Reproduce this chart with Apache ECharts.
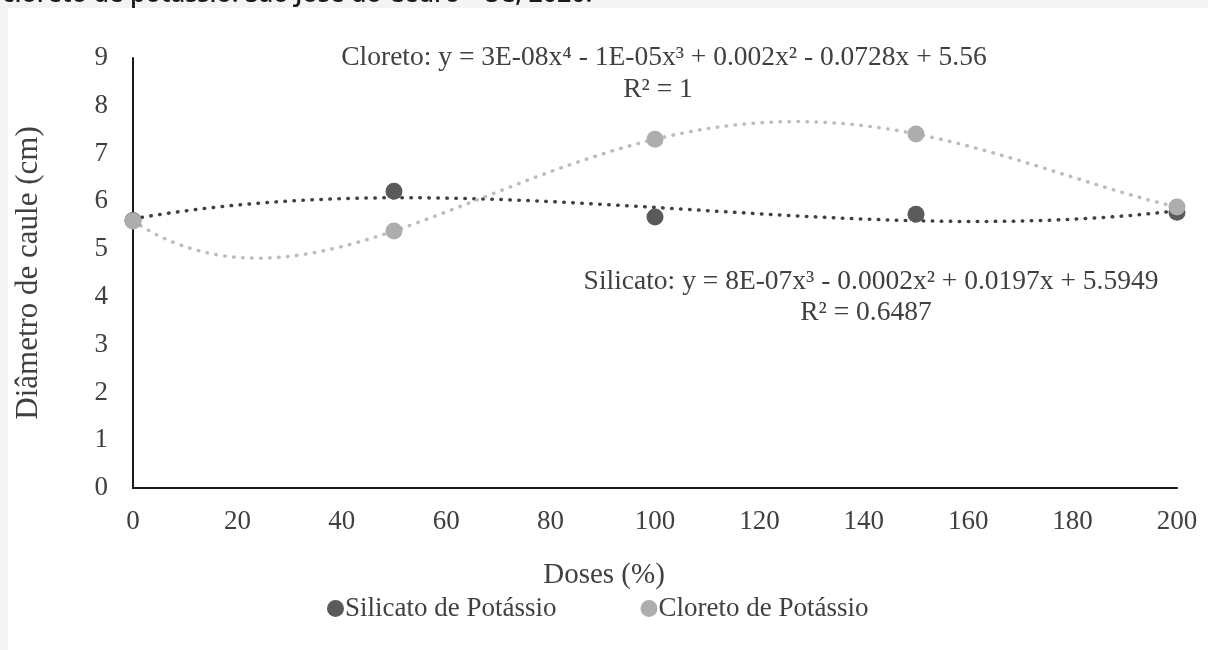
<!DOCTYPE html>
<html>
<head>
<meta charset="utf-8">
<script src="https://cdn.jsdelivr.net/npm/echarts@6/dist/echarts.min.js"></script>
<style>
html,body{margin:0;padding:0;background:#f4f4f4;}
#c{width:1208px;height:650px;}
</style>
</head>
<body>
<div id="c"></div>
<script>
// ---- data ----
const doses = [0, 50, 100, 150, 200];
const silicato = [5.6, 6.21, 5.67, 5.73, 5.77];
const cloreto = [5.59, 5.38, 7.30, 7.41, 5.88];
const xTicks = [0, 20, 40, 60, 80, 100, 120, 140, 160, 180, 200];
const yTicks = [0, 1, 2, 3, 4, 5, 6, 7, 8, 9];
const seriesNames = ['Silicato de Potássio', 'Cloreto de Potássio'];
const xTitle = 'Doses (%)';
const yTitle = 'Diâmetro de caule (cm)';
const eqCloreto = ['Cloreto: y = 3E-08x⁴ - 1E-05x³ + 0.002x² - 0.0728x + 5.56', 'R² = 1'];
const eqSilicato = ['Silicato: y = 8E-07x³ - 0.0002x² + 0.0197x + 5.5949', 'R² = 0.6487'];
const caption = 'cloreto de potássio. São José do Cedro – SC, 2020.';

// polynomial least squares trendline (like a spreadsheet trendline), computed from the data
function polyfit(xs, ys, deg) {
  const s = 100; // scale x for conditioning
  const n = deg + 1;
  const A = [];
  for (let i = 0; i < n; i++) { A.push(new Array(n + 1).fill(0)); }
  for (let k = 0; k < xs.length; k++) {
    const x = xs[k] / s;
    for (let i = 0; i < n; i++) {
      for (let j = 0; j < n; j++) A[i][j] += Math.pow(x, i + j);
      A[i][n] += ys[k] * Math.pow(x, i);
    }
  }
  for (let i = 0; i < n; i++) {
    let p = i;
    for (let r = i + 1; r < n; r++) if (Math.abs(A[r][i]) > Math.abs(A[p][i])) p = r;
    [A[i], A[p]] = [A[p], A[i]];
    for (let r = 0; r < n; r++) {
      if (r === i) continue;
      const f = A[r][i] / A[i][i];
      for (let c = i; c <= n; c++) A[r][c] -= f * A[i][c];
    }
  }
  const coef = A.map((row, i) => row[n] / row[i]);
  return x => coef.reduce((acc, c, i) => acc + c * Math.pow(x / s, i), 0);
}
function trend(xs, ys, deg) {
  const f = polyfit(xs, ys, deg);
  const pts = [];
  const lo = Math.min(...xs), hi = Math.max(...xs);
  for (let x = lo; x <= hi + 1e-9; x += 1) pts.push([x, f(x)]);
  return pts;
}

const serif = 'Liberation Serif';
const txt = '#404040';
const chart = echarts.init(document.getElementById('c'));
chart.setOption({
  backgroundColor: '#f4f4f4',
  animation: false,
  grid: { left: 133, right: 31, top: 58, bottom: 162 },
  xAxis: {
    type: 'value', min: 0, max: 200, interval: 20,
    axisLine: { show: true, lineStyle: { color: '#1a1a1a', width: 2 } },
    axisTick: { show: false },
    splitLine: { show: false },
    axisLabel: { fontFamily: serif, fontSize: 27, color: txt, margin: 20,
      formatter: v => xTicks.includes(v) ? String(v) : '' }
  },
  yAxis: {
    type: 'value', min: 0, max: 9, interval: 1,
    name: yTitle, nameLocation: 'middle', nameGap: 89,
    nameTextStyle: { fontFamily: serif, fontSize: 31, color: txt },
    axisLine: { show: true, lineStyle: { color: '#1a1a1a', width: 2 } },
    axisTick: { show: false },
    splitLine: { show: false },
    axisLabel: { fontFamily: serif, fontSize: 27, color: txt, margin: 25,
      formatter: v => yTicks.includes(v) ? String(v) : '' }
  },
  legend: {
    data: seriesNames, left: 327, top: 595, icon: 'circle',
    itemWidth: 17, itemHeight: 17, itemGap: 84, padding: 0,
    textStyle: { fontFamily: serif, fontSize: 27, color: txt, padding: [0, 0, 0, -4] }
  },
  series: [
    { name: 'Silicato trend', type: 'line', data: trend(doses, silicato, 3), showSymbol: false, smooth: false,
      lineStyle: { color: '#404040', width: 3.5, type: [0.5, 8.5], cap: 'round' }, z: 2, silent: true },
    { name: 'Cloreto trend', type: 'line', data: trend(doses, cloreto, 4), showSymbol: false, smooth: false,
      lineStyle: { color: '#bdbdbd', width: 3.5, type: [0.5, 8.5], cap: 'round' }, z: 2, silent: true },
    { name: seriesNames[0], type: 'scatter', data: doses.map((d, i) => [d, silicato[i]]),
      symbolSize: 17, itemStyle: { color: '#5a5a5a', opacity: 1 }, z: 3 },
    { name: seriesNames[1], type: 'scatter', data: doses.map((d, i) => [d, cloreto[i]]),
      symbolSize: 17, itemStyle: { color: '#adadad', opacity: 1 }, z: 4 }
  ],
  graphic: [
    { type: 'rect', left: 8, top: 8, shape: { width: 1200, height: 642 }, style: { fill: '#ffffff' }, z: -10 },
    { type: 'text', x: 2, y: -5, style: { text: caption, font: '600 25px "Open Sans"', fill: '#1a1a1a', verticalAlign: 'middle' }, z: -5 },
    { type: 'text', x: 604, y: 575, style: { text: xTitle, font: '29px "Liberation Serif"', fill: txt, align: 'center', verticalAlign: 'middle' }, z: 10 },
    { type: 'text', x: 664, y: 58, style: { text: eqCloreto[0], font: '27.5px "Liberation Serif"', fill: txt, align: 'center', verticalAlign: 'middle' }, z: 10 },
    { type: 'text', x: 658, y: 90, style: { text: eqCloreto[1], font: '27.5px "Liberation Serif"', fill: txt, align: 'center', verticalAlign: 'middle' }, z: 10 },
    { type: 'text', x: 871, y: 282, style: { text: eqSilicato[0], font: '27.5px "Liberation Serif"', fill: txt, align: 'center', verticalAlign: 'middle' }, z: 10 },
    { type: 'text', x: 866, y: 313, style: { text: eqSilicato[1], font: '27.5px "Liberation Serif"', fill: txt, align: 'center', verticalAlign: 'middle' }, z: 10 }
  ]
});
</script>
</body>
</html>
